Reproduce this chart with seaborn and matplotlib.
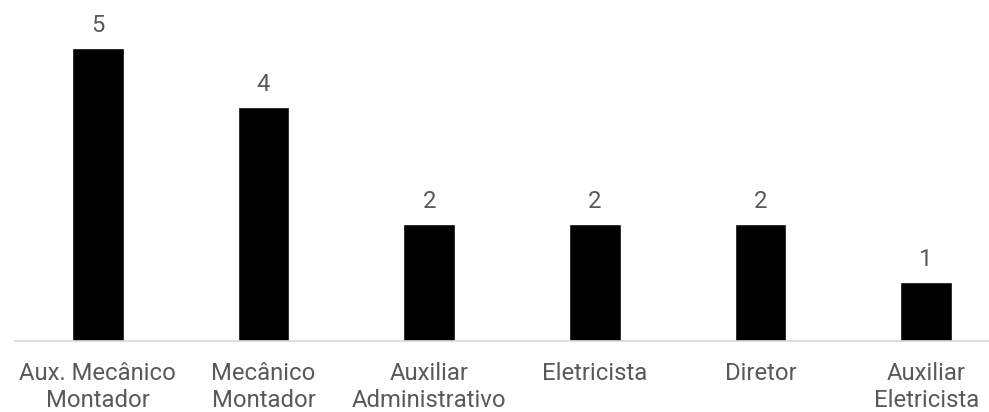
import matplotlib
matplotlib.use("Agg")
import matplotlib.pyplot as plt
import seaborn as sns
import pandas as pd

# chart data
cargos = ["Aux. Mecânico\nMontador", "Mecânico\nMontador", "Auxiliar\nAdministrativo",
          "Eletricista", "Diretor", "Auxiliar\nEletricista"]
quantidade = [5, 4, 2, 2, 2, 1]

df = pd.DataFrame({"cargo": cargos, "qtd": quantidade})

sns.set_theme(style="white")
plt.rcParams["font.family"] = ["Roboto", "DejaVu Sans"]

fig = plt.figure(figsize=(9.89, 4.12), dpi=100)
# axes runs a bit past the right edge, like the cropped original
ax = fig.add_axes([15 / 989, 71 / 412, 994 / 989, 328 / 412])

sns.barplot(data=df, x="cargo", y="qtd", color="black", width=0.31,
            saturation=1, ax=ax)

ax.set_ylim(0, 5.6)
ax.set_xlim(-0.5, len(cargos) - 0.5)
ax.set_xlabel("")
ax.set_ylabel("")
ax.set_yticks([])

for s in ["top", "right", "left"]:
    ax.spines[s].set_visible(False)
ax.spines["bottom"].set_color("#d9d9d9")
ax.spines["bottom"].set_linewidth(1.2)

ax.tick_params(axis="x", length=0, pad=15, labelsize=17.2, labelcolor="#595959")
for lbl in ax.get_xticklabels():
    lbl.set_linespacing(1.25)

ax.bar_label(ax.containers[0], padding=8, fontsize=17.2, color="#595959")

fig.savefig("out.png", dpi=100)
